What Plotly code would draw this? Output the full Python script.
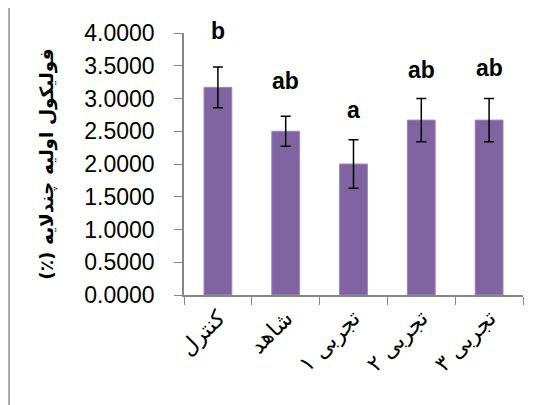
import plotly.graph_objects as go

categories = ["کنترل", "شاهد", "تجربی ۱", "تجربی ۲", "تجربی ۳"]
values = [3.17, 2.50, 2.00, 2.67, 2.67]
errors = [0.31, 0.23, 0.37, 0.33, 0.33]
letters = ["b", "ab", "a", "ab", "ab"]
letter_y = [4.03, 3.26, 2.83, 3.44, 3.46]
y_title = "فولیکول اولیه چندلایه (٪)\u200f"
y_range = [0, 4]

fig = go.Figure()
fig.add_trace(go.Bar(
    x=categories, y=values,
    marker=dict(color="#8064A2", line=dict(color="#9B86B8", width=1)),
    width=0.41,
    error_y=dict(type="data", array=errors, visible=True, color="black", thickness=1.5, width=5),
))

for c, t, ly in zip(categories, letters, letter_y):
    fig.add_annotation(x=c, y=(ly - y_range[0]) / (y_range[1] - y_range[0]), xref="x", yref="paper",
                       text="<b>" + t + "</b>", showarrow=False,
                       font=dict(family="Liberation Sans, Arial", size=23, color="black"),
                       yanchor="middle")

fig.add_annotation(x=-0.405, y=0.5, xref="paper", yref="paper", text="<b>" + y_title + "</b>",
                   textangle=-90, showarrow=False, xanchor="center", yanchor="middle",
                   font=dict(family="DejaVu Sans", size=18.5, color="black"))

fig.add_shape(type="line", xref="paper", yref="paper", x0=-0.516, x1=-0.516, y0=-0.46, y1=1.095,
              line=dict(color="#8c8c8c", width=1.5))

fig.update_layout(
    width=548, height=405,
    margin=dict(l=176, r=33, t=25, b=118),
    paper_bgcolor="white", plot_bgcolor="white",
    showlegend=False,
    font=dict(family="Liberation Sans, Arial", color="black"),
)
fig.update_xaxes(
    type="category", tickson="boundaries", ticks="outside", ticklen=8, tickcolor="#868686",
    showline=True, linecolor="#868686", linewidth=1.5, tickangle=-45, automargin=False,
    tickfont=dict(size=22, family="DejaVu Serif, Liberation Serif"), showgrid=False,
)
fig.update_yaxes(
    range=y_range, dtick=0.5, tickformat=".4f", ticks="outside", ticklen=8, tickcolor="#868686",
    showline=True, linecolor="#868686", linewidth=1.5, showgrid=False, zeroline=False,
    automargin=False, ticklabelstandoff=15,
    tickfont=dict(size=23, family="Liberation Sans, Arial"),
)

fig.write_html("out.html")
